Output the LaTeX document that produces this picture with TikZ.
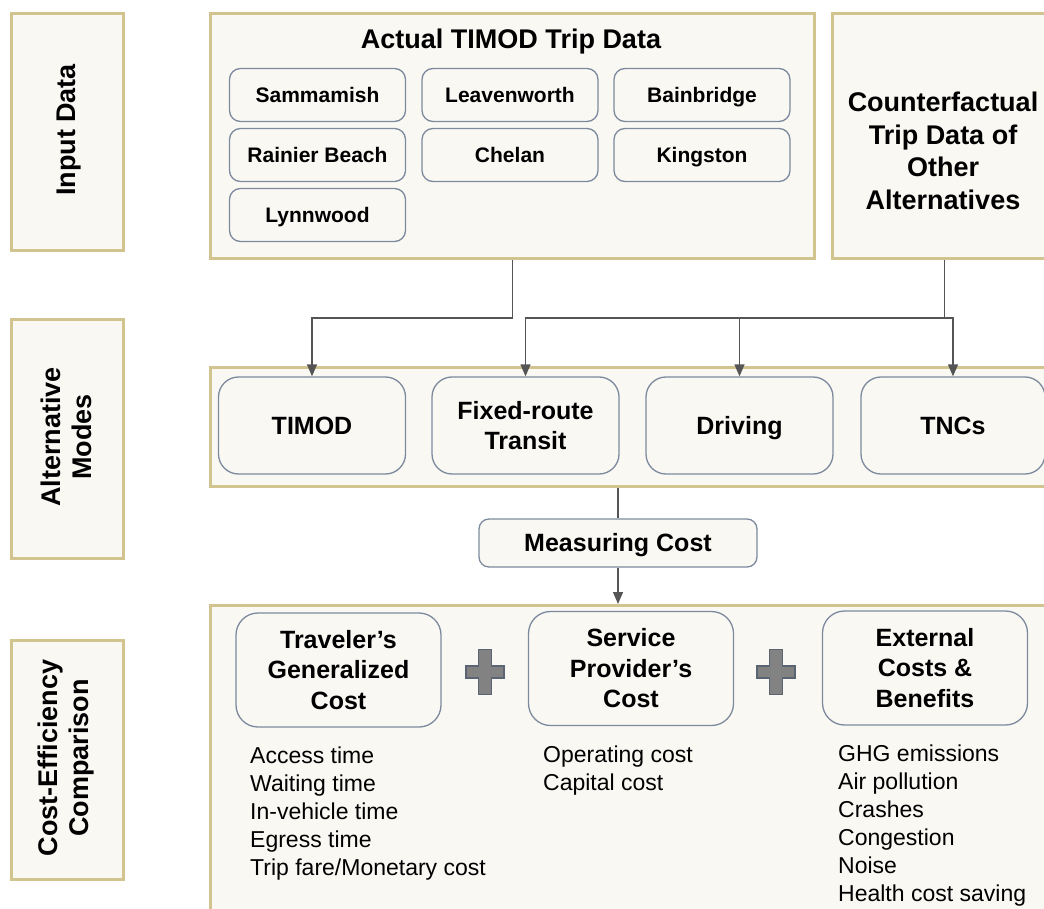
\documentclass[tikz,border=0pt]{standalone}
\usepackage{fontspec}
\setmainfont{Liberation Sans}
\usetikzlibrary{arrows.meta}
\definecolor{frameC}{RGB}{210,196,142}
\definecolor{bgC}{RGB}{250,248,243}
\definecolor{boxC}{RGB}{125,138,158}
\definecolor{lineC}{RGB}{85,85,85}
\definecolor{plusC}{RGB}{130,130,130}
\definecolor{plusE}{RGB}{90,100,115}
\begin{document}
\begin{tikzpicture}[x=1pt,y=-1pt,
  frame/.style={draw=frameC, line width=3pt, fill=bgC, inner sep=0pt, anchor=north west},
  sidelabel/.style={rotate=90, align=center, font=\fontsize{27}{31}\selectfont\bfseries},
  capsA/.style={text height=19.3pt, text depth=0pt},
  capsB/.style={text height=17.9pt, text depth=0pt},
  capsC/.style={text height=15pt, text depth=0pt},
  sbox/.style={draw=boxC, line width=1.3pt, fill=bgC, rounded corners=11pt, minimum width=176, minimum height=53, inner sep=0pt, capsC, font=\fontsize{21}{25}\selectfont\bfseries},
  mbox/.style={draw=boxC, line width=1.3pt, fill=bgC, rounded corners=20pt, minimum width=187, minimum height=97, inner sep=0pt, align=center, font=\fontsize{25}{30}\selectfont\bfseries},
  cbox/.style={draw=boxC, line width=1.3pt, fill=bgC, rounded corners=22pt, minimum width=205, minimum height=114, inner sep=0pt, align=center, font=\fontsize{25}{30.5}\selectfont\bfseries},
  listtext/.style={anchor=north west, inner sep=0pt, align=left, font=\fontsize{23}{28}\selectfont},
  conn/.style={draw=lineC, line width=1.3pt, -{Triangle[length=12pt,width=10pt]}},
  plain/.style={draw=lineC, line width=1.3pt},
  plusst/.style={fill=plusC, draw=plusE, line width=1.3pt, line join=miter}
]
\useasboundingbox (0,0) rectangle (1044,909);
\clip (0,0) rectangle (1044,909);

% side labels
\node[frame, minimum width=112, minimum height=237] (sInput) at (10,12) {};
\node[sidelabel, capsA] (tInput) at (66,130) {Input Data};
\node[frame, minimum width=112, minimum height=239] (sAlt) at (10,318) {};
\node[sidelabel] (tAlt) at (66,437) {Alternative\\Modes};
\node[frame, minimum width=112, minimum height=239] (sCost) at (10,639) {};
\node[sidelabel] (tCost) at (66,758) {Cost-Efficiency\\Comparison};

% input data
\node[frame, minimum width=604, minimum height=245] (act) at (209,12) {};
\node[capsA, font=\fontsize{27}{31}\selectfont\bfseries] (title) at (511,39) {Actual TIMOD Trip Data};
\node[sbox] (samm) at (317.5,95) {Sammamish};
\node[sbox] (leav) at (510,95) {Leavenworth};
\node[sbox] (bain) at (702,95) {Bainbridge};
\node[sbox] (rain) at (317.5,155) {Rainier Beach};
\node[sbox] (chel) at (510,155) {Chelan};
\node[sbox] (king) at (702,155) {Kingston};
\node[sbox] (lynn) at (317.5,215) {Lynnwood};

\node[frame, minimum width=224, minimum height=245] (cf) at (831,12) {};
\node[align=center, font=\fontsize{27}{32.5}\selectfont\bfseries] (cft) at (943,151) {Counterfactual\\Trip Data of\\Other\\Alternatives};

% alternative modes
\node[frame, minimum width=851, minimum height=119] (altf) at (209,366) {};
\node[mbox, capsB] (timod) at (312,425.5) {TIMOD};
\node[mbox] (fixed) at (525.5,425.5) {Fixed-route\\Transit};
\node[mbox, capsB] (driving) at (739.5,425.5) {Driving};
\node[mbox, capsB, minimum width=184] (tnc) at (953,425.5) {TNCs};

% measuring
\node[draw=boxC, line width=1.3pt, fill=bgC, rounded corners=10pt, minimum width=278, minimum height=48, inner sep=0pt, capsB, font=\fontsize{25}{30}\selectfont\bfseries] (measure) at (618,543) {Measuring Cost};

% cost-efficiency
\node[frame, minimum width=851, minimum height=321] (botf) at (209,604) {};
\node[cbox] (trav) at (338.5,670) {Traveler’s\\Generalized\\Cost};
\node[cbox] (serv) at (631,668.5) {Service\\Provider’s\\Cost};
\node[cbox] (ext) at (925,668) {External\\Costs \&\\Benefits};

\node[listtext] (travl) at (250,747) {Access time\\Waiting time\\In-vehicle time\\Egress time\\Trip fare/Monetary cost};
\node[listtext] (servl) at (543,746) {Operating cost\\Capital cost};
\node[listtext] (extl) at (838,745) {GHG emissions\\Air pollution\\Crashes\\Congestion\\Noise\\Health cost saving};

% plus signs
\foreach \cx in {485,776}{
  \draw[plusst, shift={(\cx,672)}] (-19,-6) -- (-6.5,-6) -- (-6.5,-22.5) -- (6.5,-22.5) -- (6.5,-6) -- (19,-6) -- (19,6) -- (6.5,6) -- (6.5,22.5) -- (-6.5,22.5) -- (-6.5,6) -- (-19,6) -- cycle;
}

% connectors
\coordinate (lvl) at (0,318);
\draw[conn] (act.south) -- (act.south |- lvl) -| (timod.north);
\draw[conn] (cf.south) -- (cf.south |- lvl) -| (fixed.north);
\draw[conn] (cf.south |- lvl) -| (tnc.north);
\draw[conn] (driving.north |- lvl) -- (driving.north);
\draw[plain] (measure.north |- altf.south) -- (measure.north);
\draw[conn] (measure.south) -- (measure.south |- botf.north);
\end{tikzpicture}
\end{document}
